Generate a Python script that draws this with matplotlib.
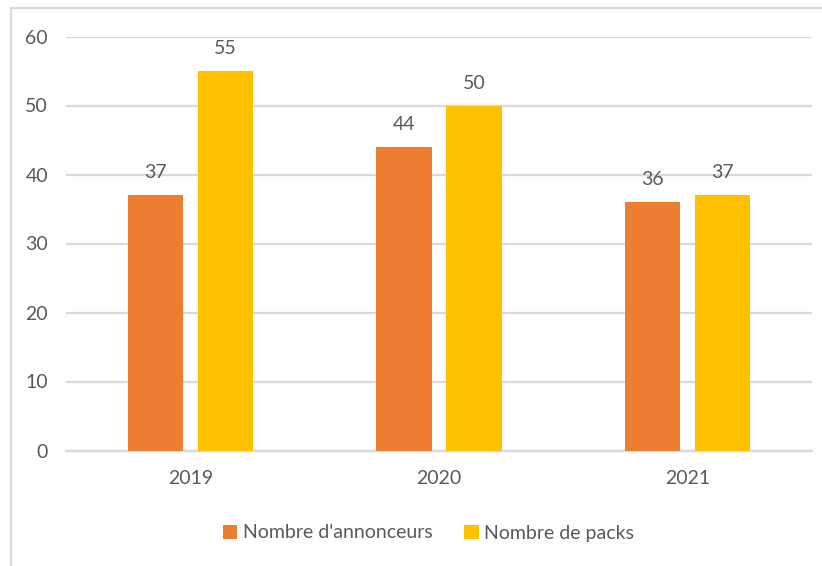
import matplotlib
matplotlib.use("Agg")
import matplotlib.pyplot as plt
import numpy as np
from matplotlib.patches import Rectangle, Patch

categories = ["2019", "2020", "2021"]
annonceurs = [37, 44, 36]
packs = [55, 50, 37]
series_names = ["Nombre d'annonceurs", "Nombre de packs"]
yticks = [0, 10, 20, 30, 40, 50, 60]

plt.rcParams['font.family'] = ['Lato', 'DejaVu Sans']
TXT = '#595959'
ORANGE = '#ED7D31'
YELLOW = '#FFC000'
GRID = '#d9d9d9'
FS = 14

W, H = 822, 566
fig = plt.figure(figsize=(W/100, H/100), dpi=100)
fig.patch.set_facecolor('white')

# outer chart border
fig.patches.append(Rectangle((11/W, -0.1), 1.2, 1 - 8/H + 0.1, transform=fig.transFigure,
                             fill=False, edgecolor='#d9d9d9', linewidth=1.5, zorder=0))

left, right = 66/W, 812/W
bottom, top = 1 - 450.5/H, 1 - 36.5/H
ax = fig.add_axes([left, bottom, right-left, top-bottom])

x = np.arange(len(categories))
bw = 0.222
off = 0.141
b1 = ax.bar(x - off, annonceurs, bw, color=ORANGE, zorder=3)
b2 = ax.bar(x + off, packs, bw, color=YELLOW, zorder=3)

for bars, vals in ((b1, annonceurs), (b2, packs)):
    for r, v in zip(bars, vals):
        ax.annotate(str(v), (r.get_x() + r.get_width()/2, v), xytext=(0, 10),
                    textcoords='offset points', ha='center', va='bottom',
                    fontsize=FS, color=TXT)

ax.set_xlim(-0.5, len(categories) - 0.5)
ax.set_ylim(0, 60)
ax.set_yticks(yticks)
ax.set_yticklabels([str(t) for t in yticks])
ax.set_xticks(x)
ax.set_xticklabels(categories)
ax.tick_params(axis='y', length=0, pad=13, labelsize=FS, labelcolor=TXT)
ax.tick_params(axis='x', length=0, pad=14, labelsize=FS, labelcolor=TXT)
ax.yaxis.grid(True, color=GRID, linewidth=1.6, zorder=0)
ax.set_axisbelow(True)
for s in ['top', 'right', 'left']:
    ax.spines[s].set_visible(False)
ax.spines['bottom'].set_color(GRID)
ax.spines['bottom'].set_linewidth(1.6)

handles = [Patch(facecolor=ORANGE, edgecolor='none'), Patch(facecolor=YELLOW, edgecolor='none')]
fig.legend(handles, series_names, loc='center', bbox_to_anchor=(428.5/W, 1 - 533/H),
           ncol=2, frameon=False, fontsize=FS, labelcolor=TXT,
           handlelength=0.75, handleheight=0.75, handletextpad=0.3, columnspacing=1.6)

fig.savefig('out.png', dpi=100)
